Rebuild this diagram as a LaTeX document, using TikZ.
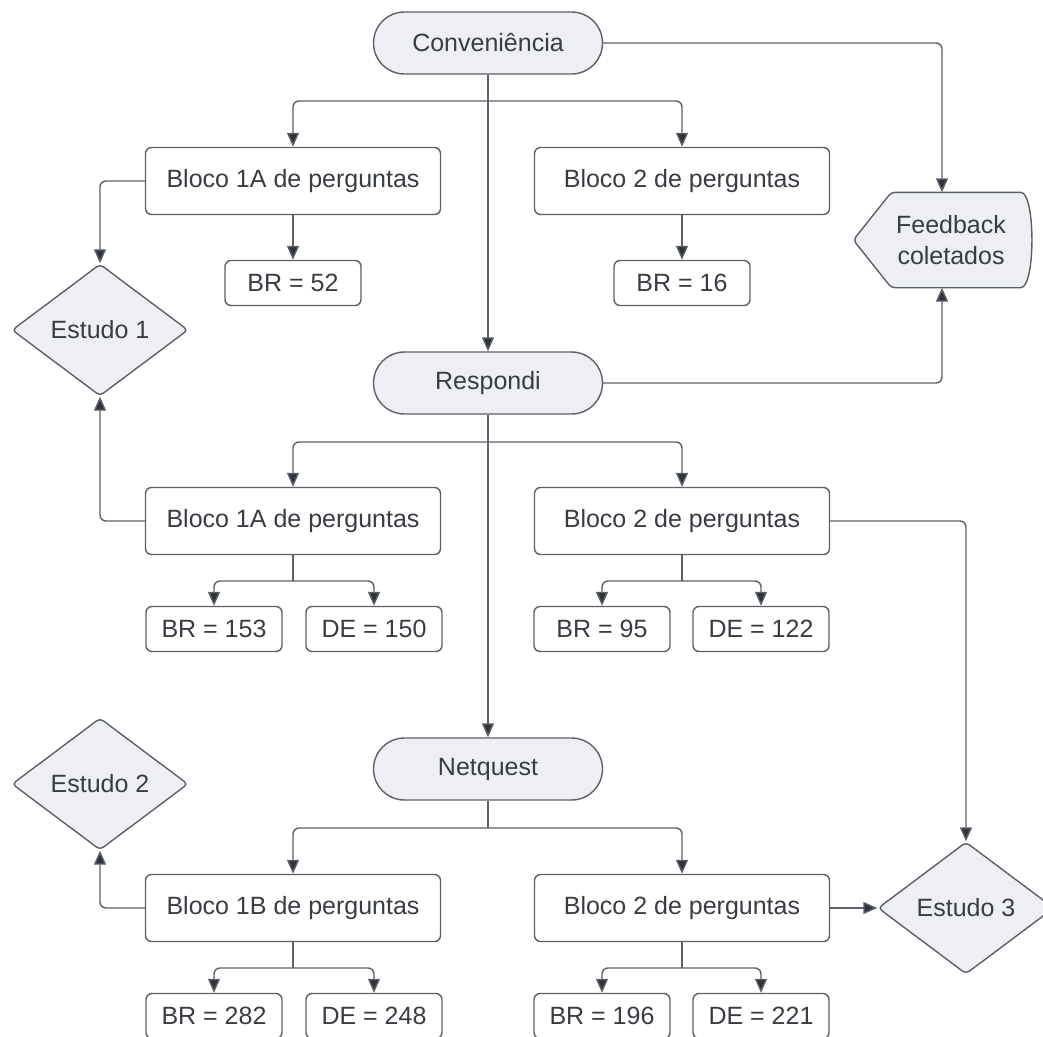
\documentclass[tikz,border=0pt]{standalone}
\usepackage{fontspec}
\setmainfont{Liberation Sans}
\usetikzlibrary{arrows.meta,shapes.geometric,calc}
\definecolor{fillc}{HTML}{EDEFF3}
\definecolor{linec}{HTML}{5C6068}
\definecolor{textc}{HTML}{383C43}
\definecolor{tipc}{HTML}{2F343B}
\begin{document}
\begin{tikzpicture}[x=1pt,y=-1pt,
  every node/.style={text=textc,font=\fontsize{25}{29}\selectfont},
  base/.style={draw=linec,line width=1.4pt},
  term/.style={base,fill=fillc,rounded corners=31,minimum width=229,minimum height=62},
  blk/.style={base,fill=white,rounded corners=6,minimum width=295,minimum height=67},
  res/.style={base,fill=white,rounded corners=6,minimum width=136,minimum height=45},
  dec/.style={base,fill=fillc,diamond,rounded corners=4,minimum width=176,minimum height=132,inner sep=0pt},
  arr/.style={draw=linec,line width=1.4pt,rounded corners=6,-{Triangle[length=14pt,width=12pt,fill=tipc]}},
  ln/.style={draw=linec,line width=1.4pt,rounded corners=6},
  fbtext/.style={minimum width=177,minimum height=95,inner sep=0pt,align=center,font=\fontsize{25}{31}\selectfont}
]
\useasboundingbox (0,0) rectangle (1043,1036);
% terminals
\node[term] (conv) at (488,43) {Conveniência};
\node[term] (resp) at (488,383) {Respondi};
\node[term] (net) at (488,769) {Netquest};
% blocks
\node[blk] (b1a) at (293,181) {Bloco 1A de perguntas};
\node[blk] (b2a) at (682,181) {Bloco 2 de perguntas};
\node[blk] (b1b) at (293,521) {Bloco 1A de perguntas};
\node[blk] (b2b) at (682,521) {Bloco 2 de perguntas};
\node[blk] (b1c) at (293,908) {Bloco 1B de perguntas};
\node[blk] (b2c) at (682,908) {Bloco 2 de perguntas};
% results
\node[res] (r52) at (293,283) {BR = 52};
\node[res] (r16) at (682,283) {BR = 16};
\node[res] (r153) at (214,629) {BR = 153};
\node[res] (r150) at (374,629) {DE = 150};
\node[res] (r95) at (602,629) {BR = 95};
\node[res] (r122) at (761,629) {DE = 122};
\node[res] (r282) at (214,1016) {BR = 282};
\node[res] (r248) at (374,1016) {DE = 248};
\node[res] (r196) at (602,1016) {BR = 196};
\node[res] (r221) at (761,1016) {DE = 221};
% decisions
\node[dec] (e1) at (100,330) {Estudo 1};
\node[dec] (e2) at (100,784) {Estudo 2};
\node[dec] (e3) at (966,908) {Estudo 3};
% feedback display shape
\node[fbtext] (fb) at (942,240) {};
\draw[base,fill=fillc,rounded corners=4] (fb.west) -- ([xshift=38]fb.north west) -- ([xshift=-14]fb.north east)
  .. controls ([xshift=5]fb.north east) and ([xshift=5]fb.south east) .. ([xshift=-14]fb.south east)
  -- ([xshift=38]fb.south west) -- cycle;
\node[fbtext,minimum width=0pt] (fbt) at ([xshift=9]fb.center) {Feedback\\coletados};
% junctions
\coordinate (j1) at (488,101);
\coordinate (j2) at (488,442);
\coordinate (j3) at (488,828);
\coordinate (k1) at (293,581);
\coordinate (k2) at (682,581);
\coordinate (k3) at (293,968);
\coordinate (k4) at (682,968);
% connectors
\draw[arr] (conv.east) -| (fb.north);
\draw[arr] (resp.east) -| (fb.south);
\draw[ln] (conv.south) -- (j1);
\draw[arr] (j1) -| (b1a.north);
\draw[arr] (j1) -| (b2a.north);
\draw[arr] (conv.south) -- (resp.north);
\draw[arr] (b1a.south) -- (r52.north);
\draw[arr] (b2a.south) -- (r16.north);
\draw[arr] (b1a.west) -| (e1.north);
\draw[arr] (b1b.west) -| (e1.south);
\draw[ln] (resp.south) -- (j2);
\draw[arr] (j2) -| (b1b.north);
\draw[arr] (j2) -| (b2b.north);
\draw[arr] (resp.south) -- (net.north);
\draw[ln] (b1b.south) -- (k1);
\draw[arr] (k1) -| (r153.north);
\draw[arr] (k1) -| (r150.north);
\draw[ln] (b2b.south) -- (k2);
\draw[arr] (k2) -| (r95.north);
\draw[arr] (k2) -| (r122.north);
\draw[arr] (b2b.east) -| (e3.north);
\draw[ln] (net.south) -- (j3);
\draw[arr] (j3) -| (b1c.north);
\draw[arr] (j3) -| (b2c.north);
\draw[arr] (b1c.west) -| (e2.south);
\draw[arr] (b2c.east) -- (e3.west);
\draw[ln] (b1c.south) -- (k3);
\draw[arr] (k3) -| (r282.north);
\draw[arr] (k3) -| (r248.north);
\draw[ln] (b2c.south) -- (k4);
\draw[arr] (k4) -| (r196.north);
\draw[arr] (k4) -| (r221.north);
\end{tikzpicture}
\end{document}
